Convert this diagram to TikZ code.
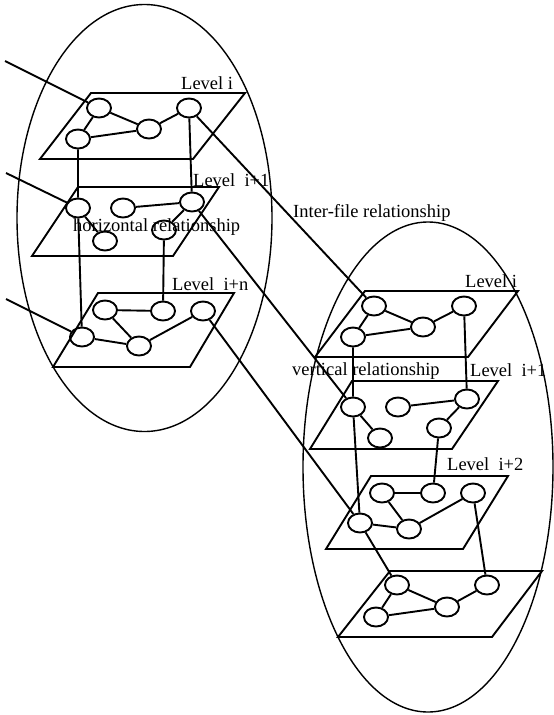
\documentclass[tikz,border=0pt]{standalone}
\usepackage{fontspec}
\setmainfont{Liberation Serif}
\usetikzlibrary{shapes.geometric}
\begin{document}
\begin{tikzpicture}[x=1pt,y=-1pt,
  obj/.style={draw,ellipse,line width=1.9pt,minimum width=24pt,minimum height=19pt,inner sep=0pt},
  link/.style={line width=1.9pt},
  plane/.style={line width=1.9pt,line join=miter},
  file/.style={line width=1.4pt},
  lbl/.style={anchor=base west,inner sep=0pt,font=\fontsize{18.5}{20}\selectfont}]
\useasboundingbox (0,0) rectangle (554,715);
% file ellipses
\draw[file] (144.5,218) ellipse [x radius=127.5,y radius=213.5];
\draw[file] (428,467) ellipse [x radius=125,y radius=245];
% planes left
\draw[plane] (40,159) -- (193,159) -- (245,93) -- (91,93) -- cycle;
\draw[plane] (32,256) -- (173,256) -- (219,187) -- (78,187) -- cycle;
\draw[plane] (53,367) -- (190,367) -- (234,293) -- (98,293) -- cycle;
% planes right
\draw[plane] (315,357) -- (468,357) -- (518,291) -- (365,291) -- cycle;
\draw[plane] (310,449) -- (452,449) -- (498,381) -- (352,381) -- cycle;
\draw[plane] (326,549) -- (463,549) -- (508,476) -- (371,476) -- cycle;
\draw[plane] (338,637) -- (492,637) -- (542,571) -- (390,571) -- cycle;
% nodes left level i
\node[obj] (A1) at (99,108) {};
\node[obj] (A2) at (78,139) {};
\node[obj] (A3) at (149,129) {};
\node[obj] (A4) at (189,108) {};
% left level i+1
\node[obj] (C1) at (78,208) {};
\node[obj] (C2) at (123,208) {};
\node[obj] (C3) at (192,202) {};
\node[obj] (C4) at (105,241) {};
\node[obj] (C5) at (164,230) {};
% left level i+n
\node[obj] (D1) at (82,337) {};
\node[obj] (D2) at (105,310) {};
\node[obj] (D3) at (163,311) {};
\node[obj] (D4) at (203,311) {};
\node[obj] (D5) at (139,346) {};
% right level i
\node[obj] (B1) at (374,306) {};
\node[obj] (B2) at (353,337) {};
\node[obj] (B3) at (423,327) {};
\node[obj] (B4) at (464,306) {};
% right level i+1
\node[obj] (E1) at (353,407) {};
\node[obj] (E2) at (398,407) {};
\node[obj] (E3) at (467,399) {};
\node[obj] (E4) at (380,438) {};
\node[obj] (E5) at (439,428) {};
% right level i+2
\node[obj] (F1) at (360,523) {};
\node[obj] (F2) at (382,493) {};
\node[obj] (F3) at (433,493) {};
\node[obj] (F4) at (473,493) {};
\node[obj] (F5) at (409,529) {};
% right level 4
\node[obj] (G1) at (397,585) {};
\node[obj] (G2) at (376,617) {};
\node[obj] (G3) at (447,607) {};
\node[obj] (G4) at (487,585) {};
% external free ends
\coordinate (X1) at (5,61);
\coordinate (X2) at (6,173);
\coordinate (X3) at (6,299);
% edges within levels
\draw[link] (A1)--(A2) (A1)--(A3) (A3)--(A4) (A2)--(A3);
\draw[link] (C2)--(C3) (C3)--(C5) (C1)--(C4);
\draw[link] (D2)--(D3) (D2)--(D5) (D1)--(D5) (D5)--(D4);
\draw[link] (B1)--(B2) (B1)--(B3) (B3)--(B4) (B2)--(B3);
\draw[link] (E2)--(E3) (E3)--(E5) (E1)--(E4);
\draw[link] (F2)--(F3) (F2)--(F5) (F1)--(F5) (F5)--(F4);
\draw[link] (G1)--(G2) (G1)--(G3) (G3)--(G4) (G2)--(G3);
% vertical relationships
\draw[link] (A2)--(C1) (C1)--(D1) (A4)--(C3) (C5)--(D3);
\draw[link] (B2)--(E1) (B4)--(E3) (E1)--(F1) (E5)--(F3) (F4)--(G4) (F1)--(G1);
% inter-file
\draw[link] (A4)--(B1) (C3)--(E1) (D4)--(F1);
% external
\draw[link] (X1)--(A1) (X2)--(C1) (X3)--(D1);
% labels
\node[lbl] (L1) at (181,89) {Level i};
\node[lbl] (L2) at (193,186) {Level\ \ i+1};
\node[lbl] (L3) at (73,231) {horizontal relationship};
\node[lbl] (L4) at (172,290) {Level\ \ i+n};
\node[lbl] (L5) at (293,217) {Inter-file relationship};
\node[lbl] (L6) at (465,287) {Level i};
\node[lbl] (L7) at (292,375) {vertical relationship};
\node[lbl] (L8) at (470,376) {Level\ \ i+1};
\node[lbl] (L9) at (447,470) {Level\ \ i+2};
\end{tikzpicture}
\end{document}
